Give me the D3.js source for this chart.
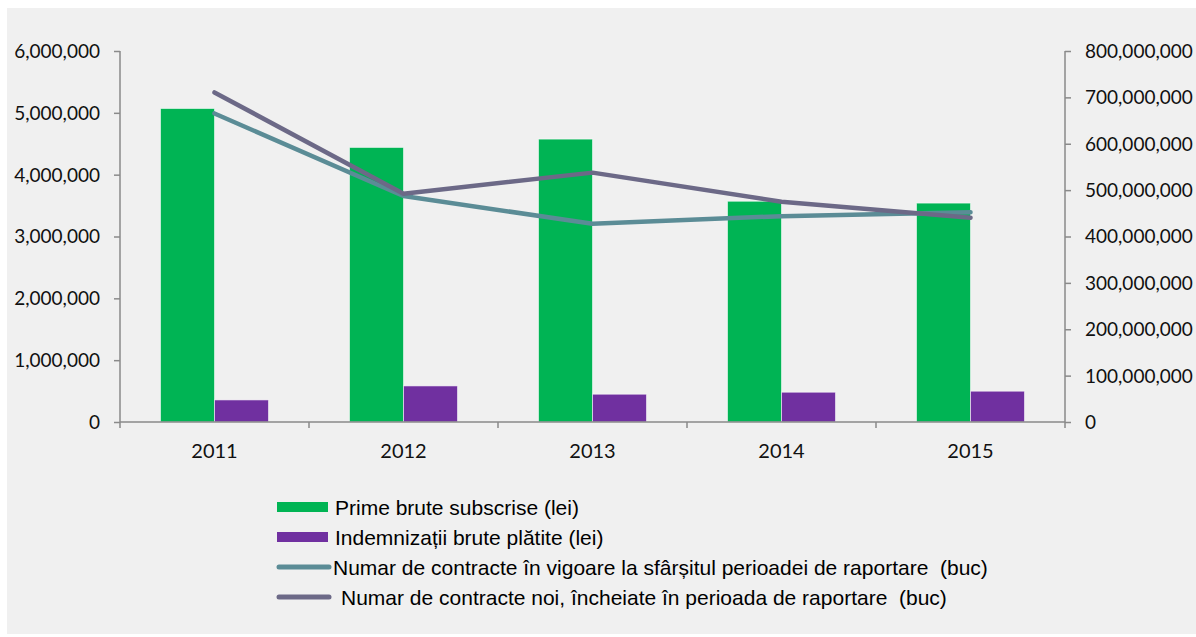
<!DOCTYPE html>
<html>
<head>
<meta charset="utf-8">
<script src="https://cdn.jsdelivr.net/npm/d3@7"></script>
<style>
  body { margin: 0; background: #ffffff; }
  .tick text { font-family: Lato, "Open Sans", sans-serif; fill: #111; }
  .legend text { font-family: "Liberation Sans", Arial, sans-serif; font-size: 21px; fill: #000; white-space: pre; }
</style>
</head>
<body>
<div id="vis"></div>
<script>

var width = 1196,
  height = 637

// Data
var years = [ '2011', '2012', '2013', '2014', '2015' ];

// bars, lei (right axis)
var primeBrute = [ 676000000, 592000000, 610000000, 476000000, 472000000 ];
var indemnizatii = [ 47600000, 77800000, 59900000, 64200000, 66400000 ];

// lines, buc (left axis)
var contracteVigoare = [ 4990000, 3654000, 3206000, 3329000, 3394000 ];
var contracteNoi = [ 5330000, 3692000, 4033000, 3563000, 3303000 ];

var leftTicks = [ 0, 1000000, 2000000, 3000000, 4000000, 5000000, 6000000 ];
var rightTicks = [ 0, 100000000, 200000000, 300000000, 400000000, 500000000, 600000000, 700000000, 800000000 ];

var legendLabels = [
  'Prime brute subscrise (lei)',
  'Indemnizații brute plătite (lei)',
  'Numar de contracte în vigoare la sfârșitul perioadei de raportare  (buc)',
  'Numar de contracte noi, încheiate în perioada de raportare  (buc)'
];

var colors = {
  prime: '#00b454',
  indemn: '#7030a0',
  vigoare: '#5b8c96',
  noi: '#6c6987'
};

var plotLeft = 120,
  plotRight = 1065,
  plotTop = 51,
  plotBottom = 422;

/* Scales */

var x = d3.scaleBand()
  .domain( years )
  .range( [ plotLeft, plotRight ] );

var xInner = d3.scaleBand()
  .domain( [ 'prime', 'indemn' ] )
  .range( [ 0, x.bandwidth() ] )
  .paddingOuter( 0.75 );

var yLeft = d3.scaleLinear()
  .domain( [ 0, 6000000 ] )
  .range( [ plotBottom, plotTop ] );

var yRight = d3.scaleLinear()
  .domain( [ 0, 800000000 ] )
  .range( [ plotBottom, plotTop ] );

var fmt = d3.format( ',' );

/* Drawing */

var svg = d3.select( '#vis' ).append( 'svg' )
  .attr( 'width', width )
  .attr( 'height', height );

svg.append( 'rect' )
  .attr( 'x', 7 )
  .attr( 'y', 8 )
  .attr( 'width', width - 7 )
  .attr( 'height', 626 )
  .attr( 'fill', '#f0f0f0' );

// Bars

var barData = years.map( ( y, i ) => [
  { year: y, key: 'prime', value: primeBrute[ i ] },
  { year: y, key: 'indemn', value: indemnizatii[ i ] }
] ).flat();

svg.selectAll( 'rect.bar' )
  .data( barData )
  .enter().append( 'rect' )
    .attr( 'class', 'bar' )
    .attr( 'x', d => x( d.year ) + xInner( d.key ) )
    .attr( 'y', d => yRight( d.value ) )
    .attr( 'width', xInner.bandwidth() )
    .attr( 'height', d => yRight( 0 ) - yRight( d.value ) )
    .attr( 'fill', d => colors[ d.key ] )
    .attr( 'stroke', 'rgba(255,255,255,0.55)' )
    .attr( 'stroke-width', 1 );

// Axes

var axisColor = '#8a8a8a';

var leftAxis = svg.append( 'g' )
  .attr( 'transform', 'translate(' + plotLeft + ',0)' )
  .call( d3.axisLeft( yLeft ).tickValues( leftTicks ).tickFormat( fmt ).tickSize( 6 ).tickPadding( 14 ) );

var rightAxis = svg.append( 'g' )
  .attr( 'transform', 'translate(' + plotRight + ',0)' )
  .call( d3.axisRight( yRight ).tickValues( rightTicks ).tickFormat( fmt ).tickSize( 6 ).tickPadding( 14 ) );

var bottomAxis = svg.append( 'g' )
  .attr( 'transform', 'translate(0,' + plotBottom + ')' )
  .call( d3.axisBottom( x ).tickSize( 0 ).tickPadding( 22 ) );

[ leftAxis, rightAxis, bottomAxis ].forEach( a => {
  a.select( '.domain' ).attr( 'stroke', axisColor ).attr( 'stroke-width', 1.5 );
  a.selectAll( '.tick line' ).attr( 'stroke', axisColor ).attr( 'stroke-width', 1.5 );
} );

leftAxis.select( '.domain' ).attr( 'd', 'M0,' + plotTop + 'V' + plotBottom );
rightAxis.select( '.domain' ).attr( 'd', 'M0,' + plotTop + 'V' + plotBottom );
bottomAxis.select( '.domain' ).attr( 'd', 'M' + plotLeft + ',0H' + plotRight );

leftAxis.selectAll( '.tick text' ).style( 'font-size', '19px' ).attr( 'dy', '0.34em' );
rightAxis.selectAll( '.tick text' ).style( 'font-size', '19px' ).attr( 'dy', '0.34em' );
bottomAxis.selectAll( '.tick text' ).style( 'font-size', '20px' );

// category boundary ticks
svg.selectAll( 'line.cat-tick' )
  .data( d3.range( years.length + 1 ) )
  .enter().append( 'line' )
    .attr( 'class', 'cat-tick' )
    .attr( 'x1', i => plotLeft + i * x.step() )
    .attr( 'x2', i => plotLeft + i * x.step() )
    .attr( 'y1', plotBottom )
    .attr( 'y2', plotBottom + 6 )
    .attr( 'stroke', axisColor )
    .attr( 'stroke-width', 1.5 );

// Lines

var line = d3.line()
  .x( ( d, i ) => x( years[ i ] ) + x.bandwidth() / 2 )
  .y( d => yLeft( d ) );

svg.append( 'path' )
  .datum( contracteVigoare )
    .attr( 'd', line )
    .attr( 'fill', 'none' )
    .attr( 'stroke', colors.vigoare )
    .attr( 'stroke-width', 4.5 )
    .attr( 'stroke-linecap', 'round' )
    .attr( 'stroke-linejoin', 'round' );

svg.append( 'path' )
  .datum( contracteNoi )
    .attr( 'd', line )
    .attr( 'fill', 'none' )
    .attr( 'stroke', colors.noi )
    .attr( 'stroke-width', 4.5 )
    .attr( 'stroke-linecap', 'round' )
    .attr( 'stroke-linejoin', 'round' );

// Legend

var legendItems = [
  { label: legendLabels[ 0 ], color: colors.prime, type: 'rect', y: 507, tx: 335 },
  { label: legendLabels[ 1 ], color: colors.indemn, type: 'rect', y: 537, tx: 335 },
  { label: legendLabels[ 2 ], color: colors.vigoare, type: 'line', y: 567, tx: 333 },
  { label: legendLabels[ 3 ], color: colors.noi, type: 'line', y: 597, tx: 341 }
];

var legend = svg.append( 'g' ).attr( 'class', 'legend' );

legendItems.forEach( d => {
  if ( d.type === 'rect' ) {
    legend.append( 'rect' )
      .attr( 'x', 277 )
      .attr( 'y', d.y - 5 )
      .attr( 'width', 51 )
      .attr( 'height', 10 )
      .attr( 'fill', d.color );
  } else {
    legend.append( 'line' )
      .attr( 'x1', 279 )
      .attr( 'x2', 329 )
      .attr( 'y1', d.y )
      .attr( 'y2', d.y )
      .attr( 'stroke', d.color )
      .attr( 'stroke-width', 5 )
      .attr( 'stroke-linecap', 'round' );
  }
  legend.append( 'text' )
    .attr( 'x', d.tx )
    .attr( 'y', d.y )
    .attr( 'dy', '0.36em' )
    .text( d.label );
} );

</script>
</body>
</html>
